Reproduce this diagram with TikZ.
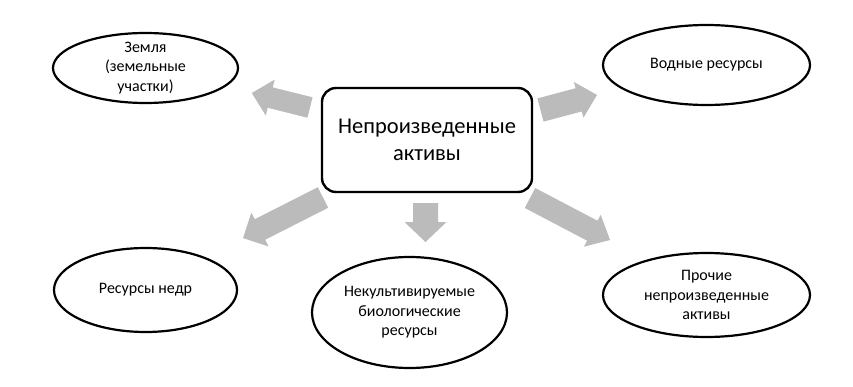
\documentclass[tikz,border=0pt]{standalone}
\usepackage{fontspec}
\setmainfont{Carlito}
\usetikzlibrary{shapes.geometric}
\definecolor{arrowgray}{HTML}{BBBBBB}
\newcommand{\garrow}[8]{% name, x, y, angle, length, shaft, head width, head length
  \begin{scope}[shift={(#2,#3)}, rotate=#4]
    \coordinate (#1) at (0,0);
    \fill[arrowgray] (0,-#6/2) -- (#5-#8,-#6/2) -- (#5-#8,-#7/2) -- (#5,0)
      -- (#5-#8,#7/2) -- (#5-#8,#6/2) -- (0,#6/2) -- cycle;
  \end{scope}}
\begin{document}
\begin{tikzpicture}[x=1pt,y=1pt,
  oval/.style={draw=black, line width=2.2pt, ellipse, inner sep=-10pt, align=center,
    font=\fontsize{16}{19.5}\selectfont},
  mainbox/.style={draw=black, line width=2.4pt, rounded corners=14pt, align=center,
    minimum width=210pt, minimum height=104pt, inner sep=0pt,
    font=\fontsize{22.5}{27}\selectfont}]
\useasboundingbox (0,0) rectangle (853,386);
\fill[white] (0,0) rectangle (853,386);
\node[mainbox] (center) at (427,246) {Непроизведенные\\активы};
\node[oval, minimum width=185pt, minimum height=70pt] (land) at (145.5,318) {Земля\\(земельные\\участки)};
\node[oval, minimum width=207pt, minimum height=80pt] (water) at (706.5,321) {Водные ресурсы};
\node[oval, minimum width=183pt, minimum height=84pt] (subsoil) at (145.5,96) {Ресурсы недр};
\node[oval, minimum width=195pt, minimum height=111pt] (bio) at (409.5,73.5) {Некультивируемые\\биологические\\ресурсы};
\node[oval, minimum width=207pt, minimum height=84pt] (other) at (706.5,91) {Прочие\\непроизведенные\\активы};
\garrow{a1}{310}{278.5}{166}{60}{21}{37}{19}
\garrow{a2}{540.5}{276}{14.9}{58.5}{24}{37}{19}
\garrow{a3}{323}{188.5}{206.9}{89.7}{23}{38}{19}
\garrow{a4}{530}{188}{-27.7}{90.4}{22.5}{36}{20}
\garrow{a5}{425.5}{183}{-90}{39}{25}{42}{20}
\end{tikzpicture}
\end{document}
